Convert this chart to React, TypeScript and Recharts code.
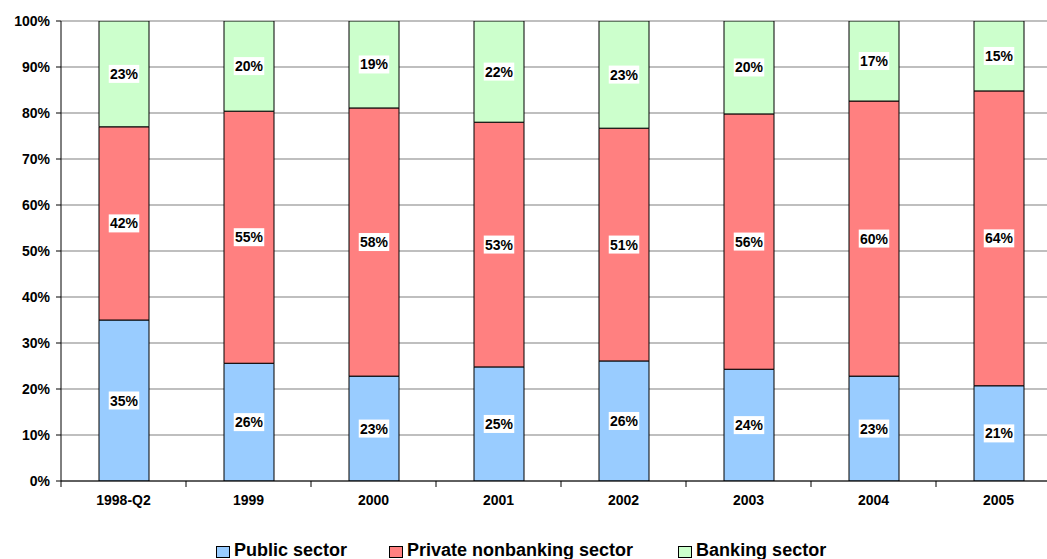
import React from "react";
import { BarChart, Bar, XAxis, YAxis, CartesianGrid, LabelList } from "recharts";

const categories = ["1998-Q2", "1999", "2000", "2001", "2002", "2003", "2004", "2005"];
const publicSector = [35.0, 25.6, 22.8, 24.8, 26.1, 24.3, 22.8, 20.7];
const privateNonbanking = [42.0, 54.8, 58.3, 53.2, 50.6, 55.5, 59.8, 64.1];
const bankingSector = [23.0, 19.6, 18.9, 22.0, 23.3, 20.2, 17.4, 15.2];
const yTicks = [0, 10, 20, 30, 40, 50, 60, 70, 80, 90, 100];

const series = [
  { key: "public", name: "Public sector", color: "#99CCFF", values: publicSector },
  { key: "private", name: "Private nonbanking sector", color: "#FF8080", values: privateNonbanking },
  { key: "banking", name: "Banking sector", color: "#CCFFCC", values: bankingSector },
];

const legendGaps = [42, 45];

const data = categories.map((c, i) => {
  const row: any = { category: c };
  series.forEach((s) => {
    row[s.key] = s.values[i];
  });
  return row;
});

const FONT = "'Liberation Sans', Arial, Helvetica, sans-serif";

const ValueLabel = (props: any) => {
  const { x, y, width, height, value } = props;
  const cx = x + width / 2;
  const cy = y + height / 2;
  const txt = `${Math.round(value)}%`;
  const w = txt.length * 9.5 + 2;
  return (
    <g>
      <rect x={cx - w / 2} y={cy - 9} width={w} height={18} fill="#ffffff" />
      <text
        x={cx}
        y={cy}
        dy={5}
        textAnchor="middle"
        fontFamily={FONT}
        fontWeight="bold"
        fontSize={14}
        fill="#000"
      >
        {txt}
      </text>
    </g>
  );
};

const XTick = (props: any) => {
  const { x, y, payload } = props;
  const half = 62.5;
  return (
    <g>
      <line x1={x - half} x2={x - half} y1={y - 8} y2={y - 2} stroke="#000" strokeWidth={1} />
      <text
        x={x}
        y={y}
        dy={16}
        textAnchor="middle"
        fontFamily={FONT}
        fontWeight="bold"
        fontSize={14}
        fill="#000"
      >
        {payload.value}
      </text>
    </g>
  );
};

export default function App() {
  return (
    <div style={{ position: "absolute", left: 0, top: 0, width: 1047, height: 559, overflow: "hidden", background: "#fff" }}>
      <BarChart
        width={1070}
        height={559}
        data={data}
        margin={{ top: 21, right: 9, bottom: 0, left: 0 }}
        barSize={50}
      >
        <CartesianGrid vertical={false} stroke="#808080" strokeWidth={1.2} />
        <XAxis
          dataKey="category"
          height={78}
          tickLine={false}
          tickSize={6}
          tickMargin={2}
          tick={<XTick />}
          axisLine={{ stroke: "#000", strokeWidth: 1 }}
          interval={0}
        />
        <YAxis
          width={61}
          domain={[0, 100]}
          ticks={yTicks}
          allowDataOverflow
          tickFormatter={(v: number) => `${v}%`}
          tick={{ fontFamily: FONT, fontWeight: "bold", fontSize: 14, fill: "#000" }}
          tickSize={5}
          tickMargin={6}
          tickLine={{ stroke: "#000" }}
          axisLine={{ stroke: "#000", strokeWidth: 1 }}
        />
        {series.map((s) => (
          <Bar
            key={s.key}
            dataKey={s.key}
            name={s.name}
            stackId="a"
            fill={s.color}
            stroke="#000"
            strokeWidth={1}
            isAnimationActive={false}
          >
            <LabelList dataKey={s.key} content={<ValueLabel />} />
          </Bar>
        ))}
      </BarChart>
      <div
        style={{
          position: "absolute",
          left: 216,
          top: 540,
          display: "flex",
          fontFamily: FONT,
          fontWeight: "bold",
          fontSize: 18,
          lineHeight: "20px",
          whiteSpace: "nowrap",
        }}
      >
        {series.map((s, i) => (
          <div
            key={s.key}
            style={{ display: "flex", alignItems: "center", marginRight: i < series.length - 1 ? legendGaps[i] : 0 }}
          >
            <span
              style={{
                display: "inline-block",
                width: 12,
                height: 10,
                background: s.color,
                border: "1px solid #000",
                marginRight: 4,
                marginTop: 3,
              }}
            />
            <span>{s.name}</span>
          </div>
        ))}
      </div>
    </div>
  );
}
